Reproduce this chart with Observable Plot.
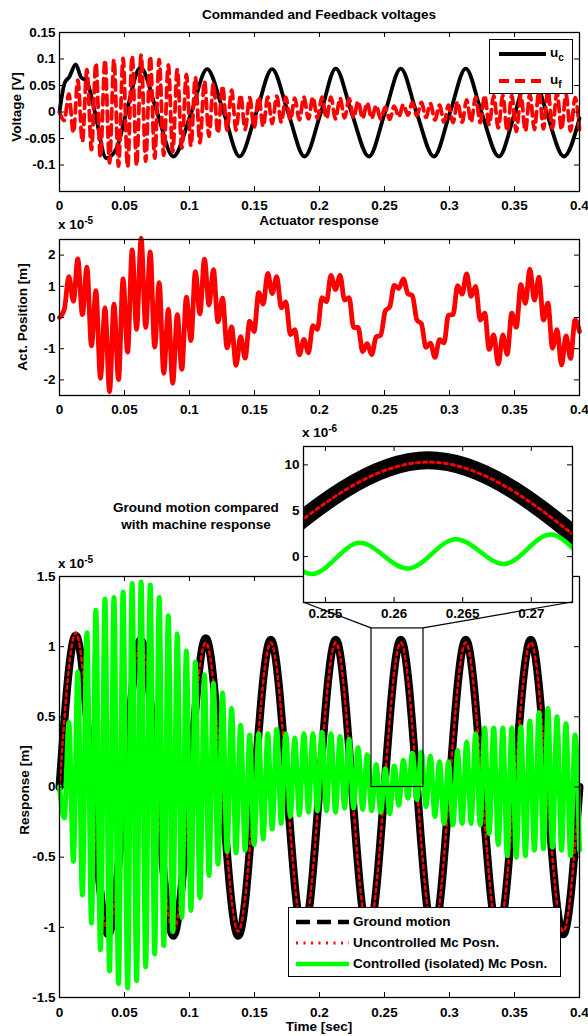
<!DOCTYPE html>
<html>
<head>
<meta charset="utf-8">
<script src="https://cdn.jsdelivr.net/npm/d3@7"></script>
<script src="https://cdn.jsdelivr.net/npm/@observablehq/plot@0.6"></script>
<style>
  html, body { margin: 0; padding: 0; background: #fff; }
  #fig { position: relative; width: 588px; height: 1036px; overflow: hidden; background: #fff;
         font-family: "Liberation Sans", Arial, Helvetica, sans-serif; font-weight: bold; font-size: 13.5px; color: #000; }
  .txt { position: absolute; white-space: nowrap; line-height: 1; }
  .txt sup, .txt sub { font-size: 10px; position: relative; vertical-align: baseline; }
  .txt sup { top: -0.55em; }
  .txt sub { top: 0.35em; }
  .legend { position: absolute; background: #fff; border: 1.3px solid #000; box-sizing: border-box; }
  .legend svg { position: absolute; left: 0; top: 0; }
  .legend .txt { transform: translate(0, -50%); }
</style>
</head>
<body>
<div id="fig"></div>
<script>
// ---------------- DATA ----------------
// Time axis ticks
const timeTicks = [0, 0.05, 0.1, 0.15, 0.2, 0.25, 0.3, 0.35, 0.4];
const voltTicks = [-0.1, -0.05, 0, 0.05, 0.1, 0.15];
const actTicks = [-2, -1, 0, 1, 2];
const respTicks = [-1.5, -1, -0.5, 0, 0.5, 1, 1.5];
const insetTimeTicks = [0.255, 0.26, 0.265, 0.27];
const insetRespTicks = [0, 0.5, 1];

// Commanded voltage u_c [V]
const ucTimes = [0, 0.004, 0.0075, 0.0125, 0.0165, 0.021, 0.0272, 0.036, 0.044, 0.0515,
  0.0623, 0.075, 0.0875, 0.1015, 0.1135, 0.1262, 0.1385, 0.1515, 0.1635, 0.1757,
  0.1885, 0.2012, 0.2125, 0.2245, 0.238, 0.2505, 0.2625, 0.2745, 0.288, 0.3005,
  0.3125, 0.3245, 0.338, 0.3505, 0.3625, 0.3745, 0.388, 0.4];
const ucVolt = [0, 0.055, 0.066, 0.090, 0.066, 0.058, 0, -0.087, -0.068, 0,
  0.084, 0, -0.084, 0, 0.081, 0, -0.084, 0, 0.081, 0,
  -0.084, 0, 0.082, 0, -0.084, 0, 0.082, 0, -0.084, 0,
  0.082, 0, -0.084, 0, 0.082, 0, -0.084, -0.012];

// Sample times of the fast (~144 Hz) oscillation extrema
const fastTimes = [0,
  0.0037, 0.0072, 0.0107, 0.0141, 0.0176, 0.0211, 0.0246, 0.0280, 0.0315, 0.0350,
  0.0385, 0.0419, 0.0454, 0.0489, 0.0524, 0.0559, 0.0593, 0.0628, 0.0663, 0.0698,
  0.0732, 0.0767, 0.0802, 0.0837, 0.0871, 0.0906, 0.0941, 0.0976, 0.1011, 0.1045,
  0.1080, 0.1115, 0.1150, 0.1184, 0.1219, 0.1254, 0.1289, 0.1324, 0.1358, 0.1393,
  0.1428, 0.1463, 0.1497, 0.1532, 0.1567, 0.1602, 0.1636, 0.1671, 0.1706, 0.1741,
  0.1776, 0.1810, 0.1845, 0.1880, 0.1915, 0.1949, 0.1984, 0.2019, 0.2054, 0.2088,
  0.2123, 0.2158, 0.2193, 0.2228, 0.2262, 0.2297, 0.2332, 0.2367, 0.2401, 0.2436,
  0.2471, 0.2506, 0.2540, 0.2575, 0.2610, 0.2645, 0.2680, 0.2714, 0.2749, 0.2784,
  0.2819, 0.2853, 0.2888, 0.2923, 0.2958, 0.2992, 0.3027, 0.3062, 0.3097, 0.3132,
  0.3166, 0.3201, 0.3236, 0.3271, 0.3305, 0.3340, 0.3375, 0.3410, 0.3444, 0.3479,
  0.3514, 0.3549, 0.3584, 0.3618, 0.3653, 0.3688, 0.3723, 0.3757, 0.3792, 0.3827,
  0.3862, 0.3896, 0.3931, 0.3966,
  0.4];

// Feedback voltage u_f [V]
const ufVolt = [0,
  -0.016, 0.034, -0.039, 0.060, -0.056, 0.080, -0.071, 0.092, -0.085, 0.098,
  -0.096, 0.099, -0.102, 0.101, -0.104, 0.106, -0.101, 0.107, -0.093, 0.105,
  -0.087, 0.099, -0.082, 0.089, -0.075, 0.080, -0.068, 0.071, -0.064, 0.065,
  -0.058, 0.058, -0.046, 0.054, -0.040, 0.049, -0.034, 0.041, -0.034, 0.032,
  -0.033, 0.027, -0.030, 0.028, -0.027, 0.028, -0.022, 0.030, -0.019, 0.028,
  -0.015, 0.026, -0.015, 0.028, -0.013, 0.028, -0.012, 0.028, -0.012, 0.028,
  -0.013, 0.026, -0.011, 0.025, -0.011, 0.020, -0.012, 0.017, -0.012, 0.012,
  -0.013, 0.009, -0.014, 0.011, -0.009, 0.014, -0.006, 0.018, -0.007, 0.018,
  -0.010, 0.016, -0.015, 0.013, -0.019, 0.013, -0.020, 0.019, -0.019, 0.023,
  -0.019, 0.028, -0.020, 0.031, -0.024, 0.031, -0.030, 0.031, -0.036, 0.031,
  -0.037, 0.031, -0.036, 0.034, -0.033, 0.039, -0.032, 0.041, -0.031, 0.037,
  -0.033, 0.033, -0.036, 0.027,
  -0.033];

// Actuator position [x 1e-5 m]
const actPos = [0,
  0.26, 1.31, 0.52, 1.88, 0.09, 1.61, -0.91, 0.86, -1.95, 0.31,
  -2.38, 0.43, -1.99, 1.24, -1.11, 2.17, -0.38, 2.54, -0.32, 2.10,
  -0.95, 1.12, -1.79, 0.26, -2.11, 0.09, -1.66, 0.65, -0.74, 1.47,
  0.12, 1.87, 0.40, 1.53, -0.14, 0.62, -0.97, -0.30, -1.53, -0.61,
  -1.30, -0.12, -0.45, 0.80, 0.43, 1.41, 0.77, 1.31, 0.31, 0.50,
  -0.55, -0.39, -1.20, -0.70, -1.13, -0.26, -0.38, 0.64, 0.50, 1.35,
  0.90, 1.35, 0.56, 0.64, -0.32, -0.32, -1.09, -0.84, -1.19, -0.62,
  -0.57, 0.21, 0.34, 1.03, 0.93, 1.24, 0.76, 0.71, -0.08, -0.20,
  -0.96, -0.82, -1.28, -0.71, -0.81, 0.08, 0.09, 1.02, 0.75, 1.40,
  0.68, 1.00, -0.08, 0.14, -1.02, -0.56, -1.49, -0.56, -1.18, 0.14,
  -0.31, 1.05, 0.45, 1.55, 0.56, 1.29, -0.08, 0.46, -0.98, -0.39,
  -1.52, -0.59, -1.31, -0.08,
  -0.45];

// Controlled (isolated) machine position [x 1e-5 m]
const controlledResp = [0,
  -0.22, 0.46, -0.53, 0.82, -0.77, 1.10, -0.97, 1.26, -1.16, 1.34,
  -1.31, 1.35, -1.40, 1.39, -1.43, 1.45, -1.38, 1.46, -1.28, 1.44,
  -1.19, 1.35, -1.13, 1.22, -1.03, 1.09, -0.93, 0.97, -0.88, 0.89,
  -0.79, 0.80, -0.63, 0.74, -0.55, 0.67, -0.46, 0.56, -0.47, 0.44,
  -0.45, 0.37, -0.41, 0.38, -0.37, 0.38, -0.30, 0.41, -0.26, 0.38,
  -0.21, 0.35, -0.20, 0.38, -0.18, 0.38, -0.17, 0.39, -0.17, 0.38,
  -0.18, 0.36, -0.15, 0.34, -0.15, 0.28, -0.16, 0.23, -0.17, 0.16,
  -0.18, 0.13, -0.19, 0.15, -0.13, 0.19, -0.08, 0.24, -0.09, 0.25,
  -0.14, 0.22, -0.21, 0.18, -0.26, 0.18, -0.27, 0.26, -0.26, 0.32,
  -0.26, 0.38, -0.27, 0.42, -0.33, 0.42, -0.41, 0.42, -0.49, 0.42,
  -0.50, 0.43, -0.49, 0.47, -0.45, 0.53, -0.44, 0.56, -0.43, 0.50,
  -0.45, 0.45, -0.49, 0.37,
  -0.45];

// Ground motion and uncontrolled machine position [x 1e-5 m] (quarter-period samples)
const slowTimes = [0, 0.0125, 0.025, 0.0375, 0.05, 0.0625, 0.075, 0.0875, 0.1, 0.1125,
  0.125, 0.1375, 0.15, 0.1625, 0.175, 0.1875, 0.2, 0.2125, 0.225, 0.2375,
  0.25, 0.2625, 0.275, 0.2875, 0.3, 0.3125, 0.325, 0.3375, 0.35, 0.3625,
  0.375, 0.3875, 0.4];
const groundResp = [0, 1.08, 0, -1.05, 0, 1.05, 0, -1.06, 0, 1.06,
  0, -1.06, 0, 1.05, 0, -1.05, 0, 1.05, 0, -1.05,
  0, 1.05, 0, -1.05, 0, 1.05, 0, -1.05, 0, 1.05,
  0, -1.05, 0];
const uncontrolledResp = [0, 1.10, 0, -1.03, 0, 1.03, 0, -1.03, 0, 1.03,
  0, -1.03, 0, 1.03, 0, -1.03, 0, 1.03, 0, -1.03,
  0, 1.03, 0, -1.03, 0, 1.03, 0, -1.03, 0, 1.03,
  0, -1.03, 0];

// Zoom region shown in the inset
const zoomRegion = [{t1: 0.24, t2: 0.28, v1: 0, v2: 1.13}];

// ---------------- RENDERING ----------------
const W = 588;
const FONT = '"Liberation Sans", Arial, Helvetica, sans-serif';
const baseStyle = {background: "transparent", fontFamily: FONT, fontSize: "13.5px", fontWeight: "bold", color: "#000", overflow: "visible"};
const zip = (ts, vs) => ts.map((t, i) => ({t, v: vs[i]}));
const fmt = d => String(Math.round(d * 10000) / 10000);
const fig = document.getElementById("fig");

const ucData = zip(ucTimes, ucVolt);
const ufData = zip(fastTimes, ufVolt);
const actData = zip(fastTimes, actPos);
const ctrlData = zip(fastTimes, controlledResp);
const groundData = zip(slowTimes, groundResp);
const uncData = zip(slowTimes, uncontrolledResp);

function boxTicks(xt, yt, innerW, innerH, len = 5) {
  return [
    Plot.tickX(xt, {x: d => d, insetTop: innerH - len, stroke: "#000", strokeWidth: 1}),
    Plot.tickX(xt, {x: d => d, insetBottom: innerH - len, stroke: "#000", strokeWidth: 1}),
    Plot.tickY(yt, {y: d => d, insetRight: innerW - len, stroke: "#000", strokeWidth: 1}),
    Plot.tickY(yt, {y: d => d, insetLeft: innerW - len, stroke: "#000", strokeWidth: 1})
  ];
}

function panel(o) {
  const ml = o.ml ?? 59, mr = o.mr ?? 9;
  const innerW = W - ml - mr, innerH = o.height - o.mt - o.mb;
  const svg = Plot.plot({
    width: W, height: o.height,
    marginTop: o.mt, marginBottom: o.mb, marginLeft: ml, marginRight: mr,
    x: {domain: o.xd}, y: {domain: o.yd},
    style: baseStyle,
    marks: [
      ...(o.pre || []),
      ...o.marks,
      ...boxTicks(o.xt, o.yt, innerW, innerH),
      Plot.frame({stroke: "#000", strokeWidth: 1.3}),
      Plot.axisX({ticks: o.xl, tickSize: 0, tickPadding: o.xPad ?? 9, tickFormat: o.xfmt || fmt, label: null}),
      Plot.axisY({ticks: o.yl, tickSize: 0, tickPadding: 4, tickFormat: o.yfmt || fmt, label: null})
    ]
  });
  svg.style.position = "absolute";
  svg.style.left = "0px";
  svg.style.top = o.top + "px";
  fig.appendChild(svg);
  return svg;
}

// Panel 1: voltages
panel({
  top: 0, height: 215, mt: 32, mb: 24,
  xd: [0, 0.4], yd: [-0.15, 0.15],
  xt: timeTicks, yt: voltTicks, xl: timeTicks, yl: voltTicks,
  marks: [
    Plot.line(ucData, {x: "t", y: "v", stroke: "#000", strokeWidth: 3.8, curve: "monotone-x"}),
    Plot.line(ufData, {x: "t", y: "v", stroke: "#ff0000", strokeWidth: 3.8, strokeDasharray: "10,6", curve: "monotone-x"})
  ]
});

// Panel 2: actuator response
panel({
  top: 215, height: 205, mt: 24, mb: 25,
  xd: [0, 0.4], yd: [-2.5, 2.5],
  xt: timeTicks, yt: actTicks, xl: timeTicks, yl: actTicks,
  marks: [
    Plot.line(actData, {x: "t", y: "v", stroke: "#ff0000", strokeWidth: 4.8, curve: "monotone-x"})
  ]
});

// Panel 3: ground vs machine response
const mainTop = 550;
const mainSvg = panel({
  top: mainTop, height: 486, mt: 26, mb: 39,
  xd: [0, 0.4], yd: [-1.5, 1.5],
  xt: timeTicks, yt: respTicks, xl: timeTicks, yl: respTicks,
  xPad: 10,
  marks: [
    Plot.line(groundData, {x: "t", y: "v", stroke: "#000", strokeWidth: 8, curve: "natural"}),
    Plot.line(uncData, {x: "t", y: "v", stroke: "#ff0000", strokeWidth: 2.5, strokeDasharray: "3,4", curve: "natural"}),
    Plot.line(ctrlData, {x: "t", y: "v", stroke: "#00ff00", strokeWidth: 5, curve: "monotone-x"}),
    Plot.rect(zoomRegion, {x1: "t1", x2: "t2", y1: "v1", y2: "v2", fill: "none", stroke: "#000", strokeWidth: 1.2})
  ]
});

// Inset (zoom)
const insetTop = 420;
const insetSvg = panel({
  top: insetTop, height: 200, mt: 26, mb: 18, ml: 303, mr: 16,
  xd: [0.2534, 0.273], yd: [-0.5, 1.2],
  xt: insetTimeTicks, yt: insetRespTicks, xl: insetTimeTicks, yl: insetRespTicks,
  xPad: 6,
  yfmt: d => String(Math.round(d * 10)),
  pre: [Plot.frame({fill: "#fff"})],
  marks: [
    Plot.line(groundData, {x: "t", y: "v", stroke: "#000", strokeWidth: 18, curve: "natural", clip: true}),
    Plot.line(uncData, {x: "t", y: "v", stroke: "#ff0000", strokeWidth: 3, strokeDasharray: "3,4", curve: "natural", clip: true}),
    Plot.line(ctrlData, {x: "t", y: "v", stroke: "#00ff00", strokeWidth: 4.5, curve: "monotone-x", clip: true})
  ]
});

// Connector lines between zoom rectangle and inset
(function () {
  const sx = mainSvg.scale("x"), sy = mainSvg.scale("y");
  const ix = insetSvg.scale("x"), iy = insetSvg.scale("y");
  const z = zoomRegion[0];
  const rx1 = sx.apply(z.t1), rx2 = sx.apply(z.t2), ry = mainTop + sy.apply(z.v2);
  const insetBottom = insetTop + iy.apply(iy.domain[0]);
  const ixl = ix.apply(ix.domain[0]), ixr = ix.apply(ix.domain[1]);
  const ov = d3.create("svg").attr("width", W).attr("height", 1036)
    .style("position", "absolute").style("left", "0px").style("top", "0px").style("pointer-events", "none");
  ov.append("line").attr("x1", rx1).attr("y1", ry).attr("x2", ixl).attr("y2", insetBottom).attr("stroke", "#000").attr("stroke-width", 1.2);
  ov.append("line").attr("x1", rx2).attr("y1", ry).attr("x2", ixr).attr("y2", insetBottom).attr("stroke", "#000").attr("stroke-width", 1.2);
  fig.appendChild(ov.node());
})();

// ---------------- TEXT ----------------
function addText(html, x, y, mode) {
  const d = document.createElement("div");
  d.className = "txt";
  d.innerHTML = html;
  d.style.left = x + "px";
  d.style.top = y + "px";
  d.style.transform = mode === "rot" ? "translate(-50%,-50%) rotate(-90deg)"
    : mode === "start" ? "translate(0,-50%)" : "translate(-50%,-50%)";
  fig.appendChild(d);
}
addText("Commanded and Feedback voltages", 319, 15);
addText("Voltage [V]", 17, 107, "rot");
addText("Actuator response", 319, 221);
addText("x 10<sup>-5</sup>", 58, 225, "start");
addText("Act. Position [m]", 23, 317, "rot");
addText("Ground motion compared", 196, 508);
addText("with machine response", 196, 525);
addText("x 10<sup>-5</sup>", 58, 564, "start");
addText("x 10<sup>-6</sup>", 302, 433, "start");
addText("Response [m]", 25, 790, "rot");
addText("Time [sec]", 319, 1027);

// ---------------- LEGENDS ----------------
function legend(x, y, w, h, items, lineX1, lineX2, textX) {
  const box = document.createElement("div");
  box.className = "legend";
  Object.assign(box.style, {left: x + "px", top: y + "px", width: w + "px", height: h + "px"});
  const s = d3.create("svg").attr("width", w).attr("height", h);
  items.forEach(it => {
    s.append("line").attr("x1", lineX1).attr("x2", lineX2).attr("y1", it.y).attr("y2", it.y)
      .attr("stroke", it.color).attr("stroke-width", it.width)
      .attr("stroke-dasharray", it.dash || null);
    const t = document.createElement("div");
    t.className = "txt";
    t.innerHTML = it.label;
    t.style.left = textX + "px";
    t.style.top = (it.y + (it.dy || 0)) + "px";
    box.appendChild(t);
  });
  box.insertBefore(s.node(), box.firstChild);
  fig.appendChild(box);
}
legend(489, 39, 84, 55, [
  {label: "u<sub>c</sub>", y: 14, color: "#000", width: 3.8, dy: -1},
  {label: "u<sub>f</sub>", y: 41, color: "#ff0000", width: 3.8, dash: "10,6", dy: -1}
], 9, 56, 60);
legend(288, 907, 273, 70, [
  {label: "Ground motion", y: 14, color: "#000", width: 4.5, dash: "14,7"},
  {label: "Uncontrolled Mc Posn.", y: 35, color: "#ff0000", width: 3, dash: "2,5.5"},
  {label: "Controlled (isolated) Mc Posn.", y: 56, color: "#00ff00", width: 4.5}
], 7, 60, 64);
</script>
</body>
</html>
